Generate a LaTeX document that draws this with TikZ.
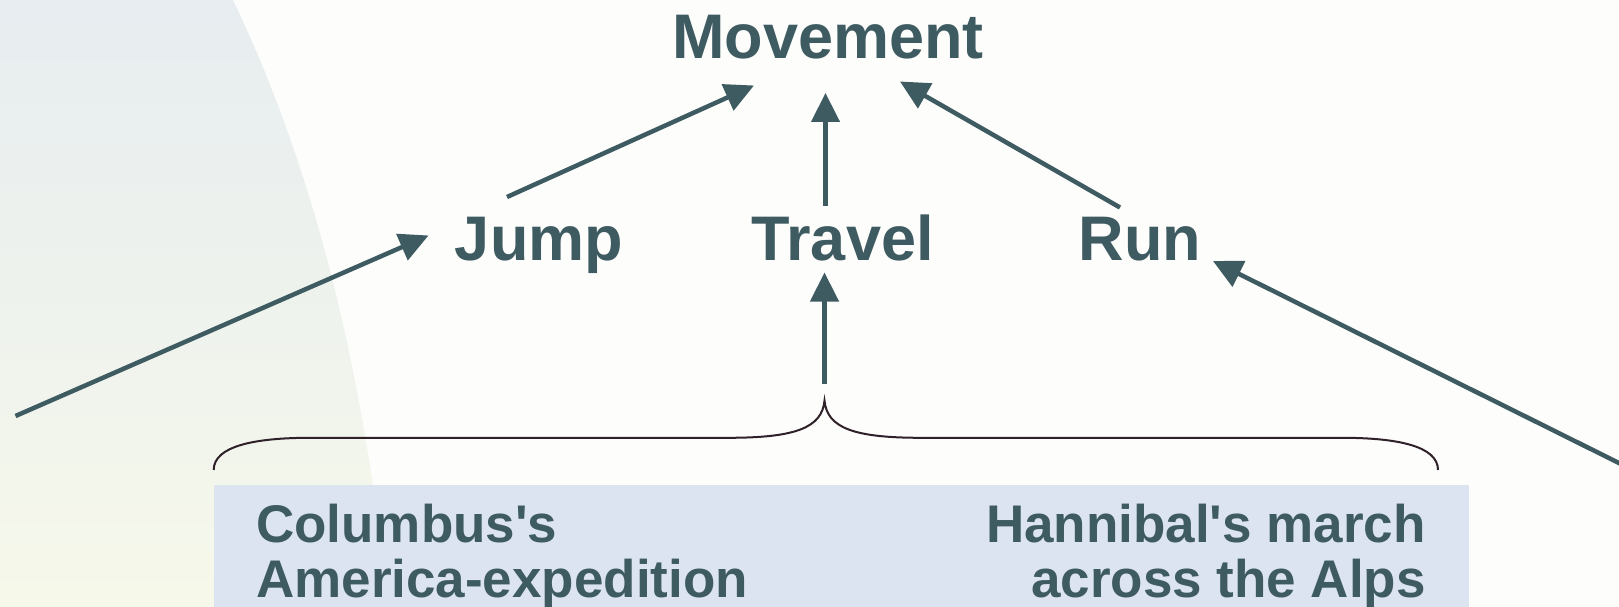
\documentclass[tikz,border=0pt]{standalone}
\usepackage{fontspec}
\setmainfont{Liberation Sans}
\usetikzlibrary{arrows.meta}
\definecolor{ink}{HTML}{3E5B61}
\definecolor{paper}{HTML}{FDFDFC}
\definecolor{bandtop}{HTML}{E7EDF0}
\definecolor{bandbot}{HTML}{F6F8EA}
\definecolor{boxfill}{HTML}{DCE4F1}
\definecolor{braceink}{HTML}{2E2129}

\begin{document}
\begin{tikzpicture}[x=1pt,y=-1pt,
  concept/.style={inner sep=0pt, text=ink, font=\fontsize{63}{70}\selectfont\bfseries, anchor=base},
  event/.style={inner sep=0pt, text=ink, font=\fontsize{53}{55}\selectfont\bfseries},
  arr/.style={draw=ink, line width=4.5pt, -{Triangle[length=29pt,width=28pt]}},
  bracepath/.style={draw=braceink, line width=2pt},
]
\useasboundingbox (0,0) rectangle (1619,607);

% page background and the shaded band on the left
\fill[paper] (0,0) rectangle (1619,607);
\shade[top color=bandtop, bottom color=bandbot]
  (0,0) -- (233,0) .. controls (300,140) and (360,330) .. (388,607) -- (0,607) -- cycle;

% strip holding the two examples
\fill[boxfill] (213.7,485) rectangle (1469,607);

% concepts
\node[concept] (mov)    at (828,59)    {Movement};
\node[concept] (jump)   at (539,260)   {Jump};
\node[concept] (travel) at (842.5,260) {Travel};
\node[concept] (run)    at (1140,260)  {Run};

% examples
\node[event, align=left,  anchor=north west] (col) at (256,504)  {Columbus\textquotesingle s\\America-expedition};
\node[event, align=right, anchor=north east] (han) at (1426,504) {Hannibal\textquotesingle s march\\across the Alps};

% free ends and the brace tip
\coordinate (lstart)   at (15.5,416);
\coordinate (rstart)   at (1640,473.5);
\coordinate (bracetip) at (824.5,400.6);

% brace over the examples
\draw[bracepath] (213.7,470) .. controls (213.7,446) and (255,437.8) .. (310,437.8)
  -- (728,437.8) .. controls (795,437.8) and (822,428) .. (bracetip)
  .. controls (827,428) and (854,437.8) .. (921,437.8)
  -- (1342,437.8) .. controls (1397,437.8) and (1438,446) .. (1438,470);

% connectors
\draw[arr] ([shift={(-32,-63)}]jump.base) -- ([shift={(-74,26.5)}]mov.base);
\draw[arr] ([shift={(-17,-54.5)}]travel.base) -- ([shift={(-2.5,34)}]mov.base);
\draw[arr] ([shift={(-20,-52.5)}]run.base) -- ([shift={(72,22.5)}]mov.base);
\draw[arr] (lstart) -- ([shift={(-110.5,-24.5)}]jump.base);
\draw[arr] ([shift={(0,-16.5)}]bracetip) -- ([shift={(-18,12.5)}]travel.base);
\draw[arr] (rstart) -- ([shift={(73,1)}]run.base);
\end{tikzpicture}
\end{document}
